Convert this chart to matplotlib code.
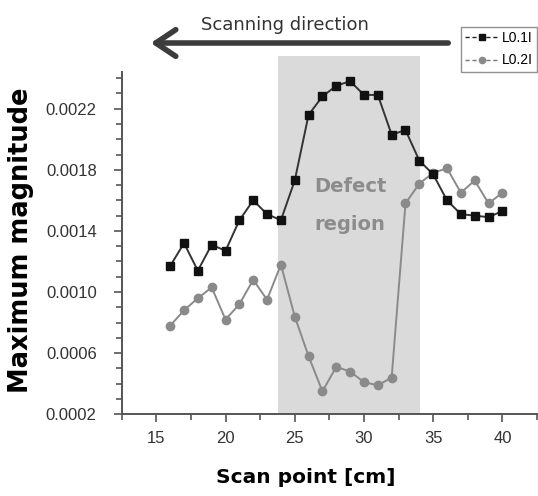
import matplotlib
matplotlib.use("Agg")
import matplotlib.pyplot as plt
import matplotlib.patches as mpatches
from matplotlib.ticker import MultipleLocator, FormatStrFormatter
from matplotlib.lines import Line2D

# ---- data ----
scan_points = list(range(16, 41))
l01i = [0.00117, 0.00132, 0.00114, 0.00131, 0.00127, 0.00147, 0.00160, 0.00151,
        0.00147, 0.00173, 0.00216, 0.00228, 0.00235, 0.00238, 0.00229, 0.00229,
        0.00203, 0.00206, 0.00186, 0.00177, 0.00160, 0.00151, 0.00150, 0.00149,
        0.00153]
l02i = [0.00078, 0.00088, 0.00096, 0.00103, 0.00082, 0.00092, 0.00108, 0.00095,
        0.00118, 0.00084, 0.00058, 0.00035, 0.00051, 0.00048, 0.00041, 0.00039,
        0.00044, 0.00158, 0.00171, 0.00178, 0.00181, 0.00165, 0.00173, 0.00158,
        0.00165]
series_names = ["L0.1I", "L0.2I"]
defect_region = (23.8, 34.07)
x_ticks = [15, 20, 25, 30, 35, 40]
y_ticks = [0.0002, 0.0006, 0.0010, 0.0014, 0.0018, 0.0022]

W, H = 538, 496
fig = plt.figure(figsize=(W / 100, H / 100), dpi=100)
ax_l, ax_r, ax_b, ax_t = 121.7, 537.0, 414.3, 72.0
ax = fig.add_axes([ax_l / W, 1 - ax_b / H, (ax_r - ax_l) / W, (ax_b - ax_t) / H])

# shaded defect region (extends a little above axes)
ax.axvspan(defect_region[0], defect_region[1], ymin=0, ymax=(ax_b - 56) / (ax_b - ax_t),
           color="#dadada", zorder=0, clip_on=False, lw=0)

ax.plot(scan_points, l01i, color="#333333", lw=1.4, marker="s", ms=5.5,
        mfc="#111111", mec="#111111", zorder=3)
ax.plot(scan_points, l02i, color="#8a8a8a", lw=1.4, marker="o", ms=6,
        mfc="#8a8a8a", mec="#8a8a8a", zorder=2)

ax.set_xlim(12.5, 42.5)
ax.set_ylim(0.0002, 0.00244)
ax.xaxis.set_major_locator(plt.FixedLocator(x_ticks))
ax.xaxis.set_minor_locator(MultipleLocator(2.5))
ax.yaxis.set_major_locator(plt.FixedLocator(y_ticks))
ax.yaxis.set_minor_locator(MultipleLocator(0.0001))
ax.yaxis.set_major_formatter(FormatStrFormatter("%.4f"))

for s in ["top", "right"]:
    ax.spines[s].set_visible(False)
for s in ["left", "bottom"]:
    ax.spines[s].set_color("#555555")
    ax.spines[s].set_linewidth(1.4)

ax.tick_params(axis="both", which="major", length=6, width=1.2, color="#555555",
               labelsize=12, labelcolor="#333333")
ax.tick_params(axis="both", which="minor", length=4, width=1.2, color="#555555")
ax.tick_params(axis="y", which="major", pad=12)
ax.tick_params(axis="x", which="major", pad=6)
for lab in ax.get_xticklabels() + ax.get_yticklabels():
    lab.set_family(["Liberation Sans", "DejaVu Sans"])

ax.set_ylabel("Maximum magnitude", fontsize=18.5, fontweight="bold")
ax.yaxis.set_label_coords((34 - ax_l) / (ax_r - ax_l), (ax_b - 240) / (ax_b - ax_t))
ax.set_xlabel("Scan point [cm]", fontsize=14.5, fontweight="bold")
ax.xaxis.set_label_coords((306 - ax_l) / (ax_r - ax_l), -(468 - ax_b) / (ax_b - ax_t))

# Defect region text
for txt, ypix in [("Defect", 186), ("region", 225)]:
    fig.text(350 / W, 1 - ypix / H, txt, fontsize=14, fontweight="bold",
             color="#8c8c8c", ha="center", va="center")

# scanning direction arrow and text
fig.text(285 / W, 1 - 25 / H, "Scanning direction", fontsize=13, color="#333333",
         ha="center", va="center")
arrow = mpatches.FancyArrowPatch(
    (451 / W, 1 - 43 / H), (148 / W, 1 - 43 / H), transform=fig.transFigure,
    arrowstyle="->,head_length=6,head_width=4", lw=4, color="#3c3c3c",
    mutation_scale=2.4)
fig.patches.append(arrow)

# legend
handles = [
    Line2D([], [], color="#222222", lw=1, ls=(0, (3, 2)), marker="s", ms=4.5,
           mfc="#111111", mec="#111111"),
    Line2D([], [], color="#777777", lw=1, ls=(0, (3, 2)), marker="o", ms=4.5,
           mfc="#8a8a8a", mec="#8a8a8a"),
]
leg = fig.legend(handles, series_names, loc="upper left",
                 bbox_to_anchor=(461 / W, 1 - 27 / H), frameon=True, fancybox=False,
                 edgecolor="#777777", handlelength=2.4,
                 handletextpad=0.25, borderpad=0.3, labelspacing=0.6,
                 borderaxespad=0, prop={"family": ["Liberation Sans", "DejaVu Sans"], "size": 10})
leg.get_frame().set_linewidth(1.0)

fig.savefig("out.png", dpi=100)
